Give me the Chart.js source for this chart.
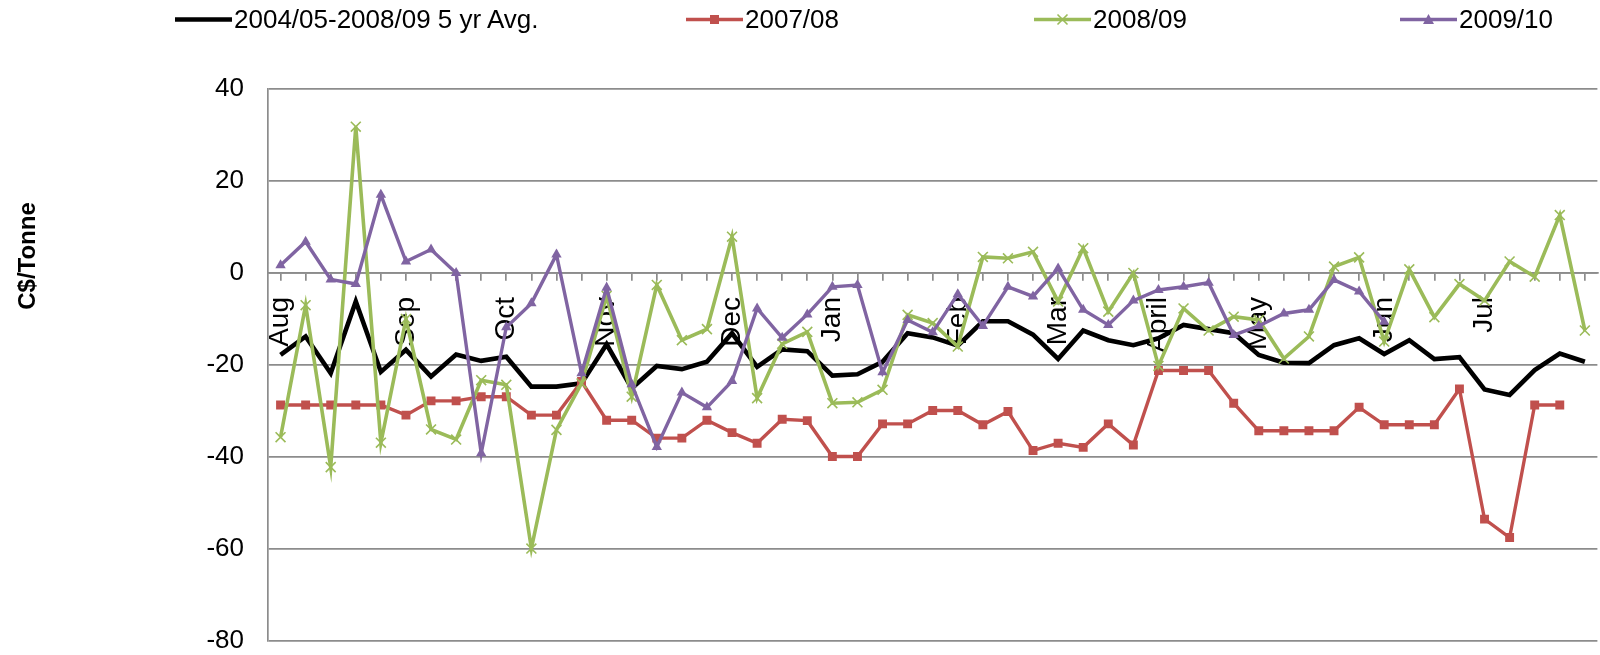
<!DOCTYPE html>
<html>
<head>
<meta charset="utf-8">
<script src="https://cdn.jsdelivr.net/npm/chart.js@4/dist/chart.umd.min.js"></script>
<style>
  html, body { margin: 0; padding: 0; background: #fff; overflow: hidden; }
  #wrap { position: relative; width: 1606px; height: 655px; }
  #legend { position: absolute; top: 0; left: 0; width: 1600px; height: 40px;
            font-family: "Liberation Sans", Arial, sans-serif; font-size: 26px; color: #000; }
  .item { position: absolute; top: 3px; height: 32px; display: flex; align-items: center; white-space: nowrap; }
  .item svg { margin-right: 2px; }
</style>
</head>
<body>
<div id="wrap">
  <canvas id="chart"></canvas>
  <div id="legend"></div>
</div>
<script>
// weekly basis, C$/Tonne, Aug -> Jul (53 weeks)
const WEEKS = 53;
const monthLabels = ['Aug', 'Sep', 'Oct', 'Nov', 'Dec', 'Jan', 'Feb', 'Mar', 'April', 'May', 'Jun', 'Jul'];
const monthWeek   = [0, 5, 9, 13, 18, 22, 27, 31, 35, 39, 44, 48];

const avg5yr = [-17.8, -13.8, -21.8, -6.2, -21.5, -16.7, -22.5, -17.7, -19.1, -18.2,
                -24.7, -24.7, -24, -15.5, -25.1, -20.2, -20.9, -19.3, -13.1, -20.4,
                -16.6, -17, -22.3, -22, -19.3, -13.1, -14, -15.8, -10.5, -10.5,
                -13.4, -18.7, -12.5, -14.6, -15.7, -14.2, -11.3, -12.2, -13.1, -17.8,
                -19.5, -19.6, -15.7, -14.2, -17.6, -14.6, -18.7, -18.3, -25.3, -26.5,
                -21.1, -17.5, -19.3];
const y0708 = [-28.7, -28.7, -28.7, -28.7, -28.7, -30.9, -27.8, -27.8, -26.9, -26.9,
               -30.9, -30.9, -23.6, -32, -32, -35.9, -35.9, -32, -34.7, -37,
               -31.8, -32.1, -39.9, -39.9, -32.8, -32.8, -29.9, -29.9, -33, -30.1,
               -38.6, -37, -37.9, -32.8, -37.4, -21.2, -21.2, -21.2, -28.3, -34.3,
               -34.3, -34.3, -34.3, -29.2, -33, -33, -33, -25.2, -53.5, -57.5,
               -28.7, -28.7, null];
const y0809 = [-35.7, -7, -42.2, 31.8, -36.9, -10, -34, -36.2, -23.3, -24.3,
               -59.9, -34.1, -24, -5, -26.9, -2.6, -14.6, -12.2, 7.9, -27.2,
               -15.4, -12.8, -28.3, -28.1, -25.4, -9.1, -10.9, -16, 3.5, 3.2,
               4.6, -6.2, 5.4, -8.4, 0, -20.2, -7.7, -12.5, -9.5, -10.2,
               -18.6, -13.8, 1.4, 3.4, -14.9, 0.8, -9.6, -2.4, -6, 2.5,
               -0.8, 12.6, -12.5];
const y0910 = [1.7, 6.8, -1.4, -2.4, 17, 2.5, 5.1, 0, -39.2, -11.8,
               -6.6, 4, -21.8, -3.2, -24.2, -37.8, -26, -29.2, -23.5, -7.7,
               -14.1, -9, -3, -2.6, -21.6, -10.2, -12.9, -4.6, -11.5, -3,
               -5.1, 1, -8, -11.3, -6, -3.7, -3, -2.1, -13.5, -11.5,
               -8.8, -8, -1.5, -4, -10.6, null, null, null, null, null,
               null, null, null];

const Y_MIN = -80, Y_MAX = 40, Y_STEP = 20;

const FONT = '"Liberation Sans", Arial, sans-serif';
const GRID = '#8c8c8c';

const labels = Array(WEEKS).fill('');
monthWeek.forEach((w, i) => { labels[w] = monthLabels[i]; });

const series = [
  { label: '2004/05-2008/09 5 yr Avg.', data: avg5yr, color: '#000000', width: 4.6, style: false, r: 0, order: 4 },
  { label: '2007/08', data: y0708, color: '#C0504D', width: 3.4, style: 'rect', r: 6.3, order: 3 },
  { label: '2008/09', data: y0809, color: '#9BBB59', width: 3.6, style: 'crossRot', r: 7, order: 2 },
  { label: '2009/10', data: y0910, color: '#8064A2', width: 3.4, style: 'triangle', r: 6, order: 1 }
];

// legend (Excel spreads the entries unevenly, so it is laid out by hand)
const legendLeft = [175, 686, 1034, 1400];
function legendSymbol(s) {
  let m = '';
  const c = s.color;
  if (s.style === 'rect') m = `<rect x="24" y="12" width="9" height="9" fill="${c}"/>`;
  if (s.style === 'crossRot') m = `<path d="M23.5 11.5 L33.5 21.5 M33.5 11.5 L23.5 21.5" stroke="${c}" stroke-width="1.6"/>`;
  if (s.style === 'triangle') m = `<path d="M28.5 11 L34 21 L23 21 Z" fill="${c}"/>`;
  return `<svg width="57" height="32" viewBox="0 0 57 32"><line x1="0" y1="16.5" x2="57" y2="16.5" stroke="${c}" stroke-width="${s.width}"/>${m}</svg>`;
}
const legendEl = document.getElementById('legend');
series.forEach((s, i) => {
  const d = document.createElement('div');
  d.className = 'item';
  d.style.left = legendLeft[i] + 'px';
  d.innerHTML = legendSymbol(s) + '<span>' + s.label + '</span>';
  legendEl.appendChild(d);
});

// Excel put the value-axis title above the middle of the axis, so draw it by hand
const yTitlePlugin = {
  id: 'yTitle',
  afterDraw(chart) {
    const ctx = chart.ctx;
    ctx.save();
    ctx.translate(28, 256);
    ctx.rotate(-Math.PI / 2);
    ctx.font = 'bold 24px ' + FONT;
    ctx.fillStyle = '#000';
    ctx.textAlign = 'center';
    ctx.textBaseline = 'middle';
    ctx.fillText('C$/Tonne', 0, 0);
    ctx.restore();
  }
};

new Chart(document.getElementById('chart'), {
  type: 'line',
  data: {
    labels,
    datasets: series.map(s => ({
      label: s.label,
      data: s.data,
      borderColor: s.color,
      backgroundColor: s.color,
      borderWidth: s.width,
      pointStyle: s.style,
      pointRadius: s.r,
      pointHoverRadius: s.r,
      pointBorderWidth: s.style === 'crossRot' ? 1.6 : 0,
      pointBackgroundColor: s.color,
      pointBorderColor: s.color,
      tension: 0,
      spanGaps: false,
      order: s.order
    }))
  },
  options: {
    responsive: true,
    maintainAspectRatio: false,
    devicePixelRatio: 1,
    animation: false,
    layout: { padding: { top: 89, right: 2, bottom: 14, left: 0 } },
    plugins: { legend: { display: false }, tooltip: { enabled: false } },
    scales: {
      x: {
        type: 'category',
        position: { y: 0 },
        offset: true,
        // axis sits on the zero line: keep it from eating layout space
        afterFit(scale) {
          scale.height = 0;
          scale.paddingLeft = 0; scale.paddingRight = 0;
          scale.paddingTop = 0; scale.paddingBottom = 0;
        },
        grid: { display: true, drawOnChartArea: false, drawTicks: true, tickLength: 7,
                offset: false, color: GRID, lineWidth: 1.7 },
        border: { display: true, color: GRID, width: 1.7 },
        ticks: { autoSkip: false, minRotation: 90, maxRotation: 90, padding: 17,
                 color: '#000', font: { family: FONT, size: 28, lineHeight: 1 } }
      },
      y: {
        min: Y_MIN, max: Y_MAX,
        afterFit(scale) {
          scale.width = 268;
          scale.paddingTop = 0; scale.paddingBottom = 0;
        },
        grid: { color: GRID, lineWidth: 1.7, drawTicks: false },
        border: { display: true, color: GRID, width: 1.7 },
        ticks: { stepSize: Y_STEP, padding: 24, color: '#000',
                 font: { family: FONT, size: 26, lineHeight: 1 } }
      }
    }
  },
  plugins: [yTitlePlugin]
});
</script>
</body>
</html>
